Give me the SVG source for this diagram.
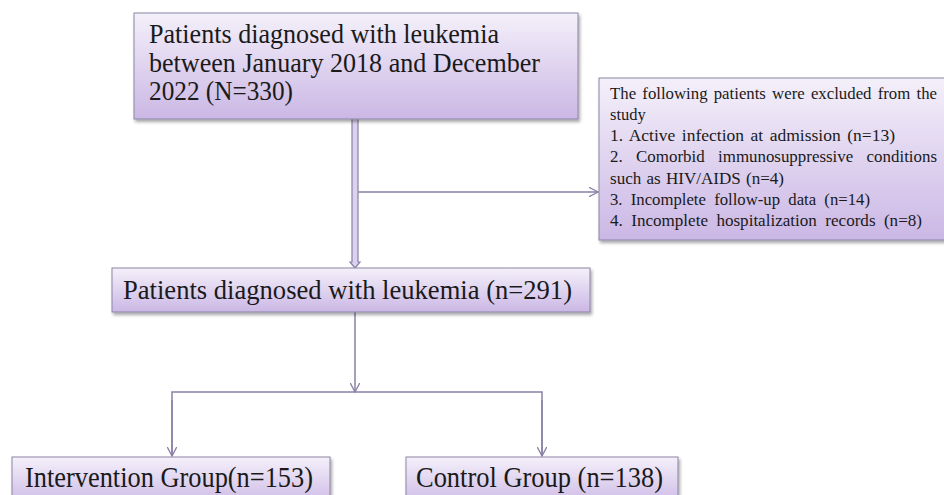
<svg xmlns="http://www.w3.org/2000/svg" width="944" height="495" viewBox="0 0 944 495">
<defs>
<linearGradient id="g" x1="0" y1="0" x2="0" y2="1">
<stop offset="0" stop-color="#f4f0fa"/>
<stop offset="1" stop-color="#cbb7e5"/>
</linearGradient>
<filter id="sh" x="-5%" y="-5%" width="110%" height="130%">
<feDropShadow dx="1.5" dy="2.5" stdDeviation="1.5" flood-color="#000" flood-opacity="0.35"/>
</filter>
<marker id="ah" viewBox="0 0 10 10" refX="9.5" refY="5" markerWidth="10" markerHeight="10" markerUnits="userSpaceOnUse" orient="auto">
<path d="M0,0 L9.5,5 L0,10" fill="none" stroke="#8a80a6" stroke-width="1.3"/>
</marker>
</defs>
<style>
.box{fill:url(#g);stroke:#8b85a3;stroke-width:1;filter:url(#sh)}
.big{font-family:"Liberation Serif","Times New Roman",serif;fill:#1a1a1a}
.sm{font-family:"Liberation Serif","Times New Roman",serif;font-size:16.5px;fill:#1a1a1a}
.ln{fill:none;stroke:#8a80a6;stroke-width:1.5}
</style>
<rect width="944" height="495" fill="#ffffff"/>
<g id="connectors">
<path d="M352,119 V262 L350,262 L355,268 L360,262 L358,262 V119" fill="#ddd2ee" stroke="#8a80a6" stroke-width="1.2"/>
<line class="ln" x1="358" y1="192" x2="598" y2="192" marker-end="url(#ah)"/>
<line class="ln" x1="355" y1="312" x2="355" y2="392" marker-end="url(#ah)"/>
<polyline class="ln" points="172,456 172,392 542,392 542,456"/>
<line class="ln" x1="172" y1="400" x2="172" y2="456" marker-end="url(#ah)"/>
<line class="ln" x1="542" y1="400" x2="542" y2="456" marker-end="url(#ah)"/>
</g>
<g id="node-total">
<rect class="box" x="134" y="13" width="444" height="106"/>
<text class="big" font-size="27" x="149" y="43" textLength="350" lengthAdjust="spacingAndGlyphs">Patients diagnosed with leukemia</text>
<text class="big" font-size="27" x="149" y="72" textLength="391" lengthAdjust="spacingAndGlyphs">between January 2018 and December</text>
<text class="big" font-size="27" x="149" y="100" textLength="144" lengthAdjust="spacingAndGlyphs">2022 (N=330)</text>
</g>
<g id="node-excluded">
<rect class="box" x="599" y="78" width="350" height="162"/>
<text class="sm" x="610" y="99" word-spacing="2" textLength="327" lengthAdjust="spacingAndGlyphs">The following patients were excluded from the</text>
<text class="sm" x="610" y="120">study</text>
<text class="sm" x="610" y="141" word-spacing="2" textLength="285" lengthAdjust="spacingAndGlyphs">1.  Active infection at admission (n=13)</text>
<text class="sm" x="610" y="162" word-spacing="9" textLength="327" lengthAdjust="spacingAndGlyphs">2.  Comorbid immunosuppressive conditions</text>
<text class="sm" x="610" y="184" word-spacing="1" textLength="174" lengthAdjust="spacingAndGlyphs">such as HIV/AIDS (n=4)</text>
<text class="sm" x="610" y="205" word-spacing="4" textLength="260" lengthAdjust="spacingAndGlyphs">3.  Incomplete follow-up data (n=14)</text>
<text class="sm" x="610" y="226" word-spacing="4" textLength="312" lengthAdjust="spacingAndGlyphs">4.  Incomplete hospitalization records (n=8)</text>
</g>
<g id="node-included">
<rect class="box" x="112" y="268" width="478" height="44"/>
<text class="big" font-size="28" x="123" y="299" textLength="449" lengthAdjust="spacingAndGlyphs">Patients diagnosed with leukemia (n=291)</text>
</g>
<g id="node-intervention">
<rect class="box" x="12" y="457" width="318" height="50"/>
<text class="big" font-size="30" x="25" y="487" textLength="288" lengthAdjust="spacingAndGlyphs">Intervention Group(n=153)</text>
</g>
<g id="node-control">
<rect class="box" x="406" y="457" width="272" height="50"/>
<text class="big" font-size="30" x="416" y="487" textLength="247" lengthAdjust="spacingAndGlyphs">Control Group (n=138)</text>
</g>
</svg>
